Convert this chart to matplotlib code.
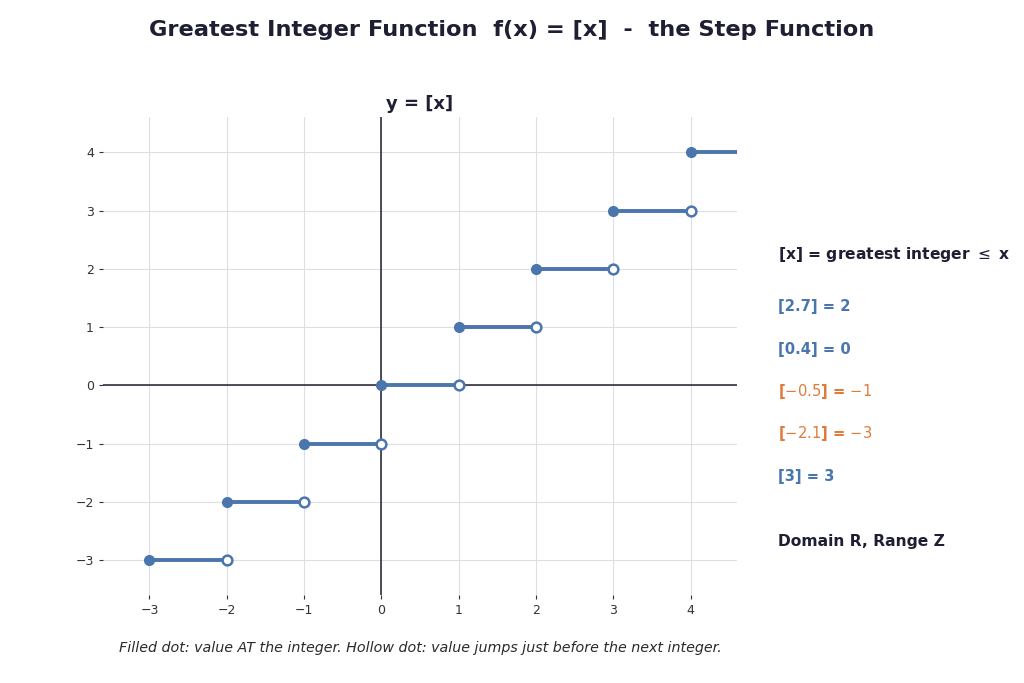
import matplotlib
matplotlib.use("Agg")
import matplotlib.pyplot as plt

# data
step_starts = [-3, -2, -1, 0, 1, 2, 3, 4]
step_values = [-3, -2, -1, 0, 1, 2, 3, 4]
step_ends = [-2, -1, 0, 1, 2, 3, 4, 5]
x_ticks = [-3, -2, -1, 0, 1, 2, 3, 4]
y_ticks = [-3, -2, -1, 0, 1, 2, 3, 4]

BLUE = "#4a76ad"
ORANGE = "#e07b3a"
DARK = "#1f1f33"

fig = plt.figure(figsize=(10.24, 6.83), dpi=100)
ax = fig.add_axes([0.1006, 0.129, 0.6192, 0.699])

ax.set_xlim(-3.6, 4.6)
ax.set_ylim(-3.6, 4.6)
ax.grid(True, color="#dcdfe6", linewidth=0.8)
ax.set_axisbelow(True)
for s in ax.spines.values():
    s.set_visible(False)
ax.axhline(0, color=DARK, linewidth=1.1, zorder=2)
ax.axvline(0, color=DARK, linewidth=1.1, zorder=2)
ax.set_xticks(x_ticks)
ax.set_yticks(y_ticks)
ax.tick_params(colors="#333333", labelsize=9, length=3, width=0.8)

for a, v, b in zip(step_starts, step_values, step_ends):
    ax.plot([a, b], [v, v], color=BLUE, linewidth=2.8, zorder=3, solid_capstyle="butt")
    ax.plot([a], [v], "o", color=BLUE, markersize=7, zorder=4)
    ax.plot([b], [v], "o", markerfacecolor="white", markeredgecolor=BLUE,
            markeredgewidth=1.8, markersize=7, zorder=4, clip_on=True)

ax.set_title("y = [x]", fontsize=13, fontweight="bold", color=DARK, pad=6)

fig.text(0.5, 0.956, "Greatest Integer Function  f(x) = [x]  -  the Step Function",
         ha="center", va="center", fontsize=16.2, fontweight="bold", color=DARK)

tx = 0.76
fig.text(tx, 0.628, r"[x] = greatest integer $\leq$ x", fontsize=11.2, fontweight="bold",
         color=DARK, va="center")
examples = [
    ("[2.7] = 2", BLUE),
    ("[0.4] = 0", BLUE),
    ("[$-0.5$] = $-1$", ORANGE),
    ("[$-2.1$] = $-3$", ORANGE),
    ("[3] = 3", BLUE),
]
ys = [0.551, 0.489, 0.427, 0.365, 0.302]
for (t, c), yy in zip(examples, ys):
    fig.text(tx, yy, t, fontsize=10.6, fontweight="bold", color=c, va="center")
fig.text(tx, 0.207, "Domain R, Range Z", fontsize=11.2, fontweight="bold", color=DARK, va="center")

fig.text(0.411, 0.051, "Filled dot: value AT the integer. Hollow dot: value jumps just before the next integer.",
         ha="center", va="center", fontsize=10.3, style="italic", color="#2a2a2a")

fig.savefig("out.png", dpi=100, facecolor="white")
